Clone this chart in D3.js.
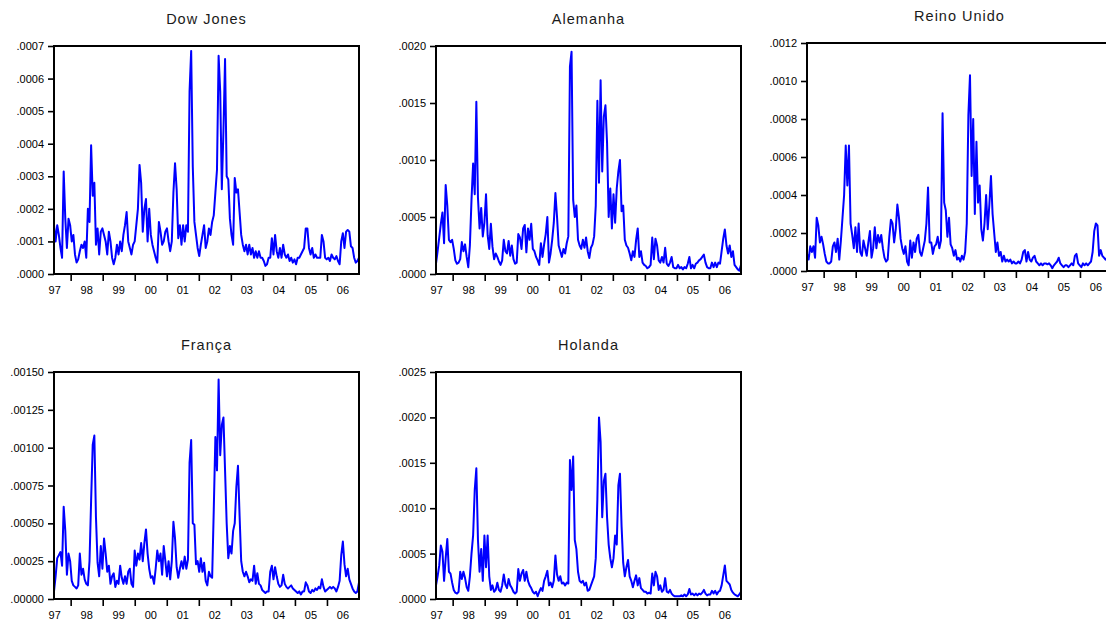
<!DOCTYPE html>
<html>
<head>
<meta charset="utf-8">
<script src="https://cdn.jsdelivr.net/npm/d3@7"></script>
<style>
  body { margin: 0; background: #fff; }
  svg { display: block; }
  text { font-family: "Liberation Sans", Arial, sans-serif; fill: #000; }
</style>
</head>
<body>
<svg id="chart" width="1106" height="620"></svg>
<script>
// Conditional variance estimates, sampled evenly from mid-1997 to end of 2006.
// Values are in units of 1e-4.
const seriesStart = 1997.48;
const seriesEnd = 2007.0;
const yearLabels = ["97", "98", "99", "00", "01", "02", "03", "04", "05", "06"];
const firstYear = 1997;

const dowJones = [
  1.5, 1.0, 1.5, 1.2, 0.8, 0.5, 3.15, 1.7, 0.8, 1.7,
  1.5, 1.0, 1.2, 0.6, 0.35, 0.45, 0.7, 0.9, 0.8, 1.0, 0.5, 2.0, 1.6, 3.95, 2.4, 2.8, 0.9, 1.4, 0.6, 1.3,
  1.4, 1.2, 1.0, 0.6, 1.3, 1.0, 0.5, 0.3, 0.5, 0.9, 0.6, 1.0, 0.7, 1.2, 1.5, 1.9, 1.0, 0.8, 0.6, 0.9,
  1.0, 1.5, 2.0, 3.35, 2.8, 1.3, 2.0, 2.3, 1.0, 2.0, 1.2, 0.9, 0.7, 0.5, 0.35, 1.6, 1.3, 0.9, 1.0, 1.3,
  1.4, 1.0, 0.7, 1.0, 2.5, 3.4, 2.6, 1.1, 1.5, 0.9, 1.5, 1.0, 1.5, 1.3, 5.6, 6.85, 3.3, 1.6, 1.2, 0.8,
  0.55, 0.9, 1.2, 1.5, 0.8, 1.0, 1.4, 1.2, 1.6, 1.8, 2.5, 3.2, 6.7, 5.6, 2.6, 4.4, 6.6, 3.0, 2.9, 1.7,
  1.2, 0.9, 2.95, 2.5, 2.6, 1.9, 1.2, 0.9, 0.7, 0.9, 0.6, 0.9, 0.6, 0.8, 0.5, 0.7, 0.5, 0.7, 0.5, 0.5,
  0.4, 0.25, 0.3, 0.5, 0.5, 1.1, 0.6, 1.2, 0.7, 0.5, 0.8, 0.5, 0.9, 0.6, 0.5, 0.6, 0.4, 0.5, 0.35, 0.45,
  0.3, 0.5, 0.5, 0.6, 0.7, 0.8, 1.4, 1.4, 0.8, 0.6, 0.8, 0.5, 0.6, 0.5, 0.5, 0.5, 1.2, 1.0, 0.5, 0.45,
  0.5, 0.4, 0.6, 0.5, 0.45, 0.55, 0.4, 0.3, 1.0, 1.25, 0.8, 1.3, 1.35, 1.3, 0.85, 0.8, 0.5, 0.35, 0.4, 0.5
];

const alemanha = [
  0.9, 2.0, 3.2, 4.4, 5.4, 2.7, 7.8, 6.0, 3.0, 2.8,
  3.0, 2.2, 1.2, 0.9, 1.0, 1.3, 2.8, 2.0, 2.6, 1.5, 0.6, 2.5, 6.5, 9.7, 7.0, 15.1, 6.7, 4.0, 5.8, 3.3,
  4.5, 7.0, 3.4, 2.2, 4.4, 2.4, 1.3, 1.8, 1.5, 1.1, 0.8, 1.2, 3.0, 2.0, 1.8, 2.9, 1.6, 2.5, 1.3, 0.9,
  1.0, 3.5, 3.2, 2.2, 4.0, 4.3, 1.9, 4.0, 3.0, 4.4, 2.2, 2.0, 1.5, 1.2, 0.8, 2.7, 1.5, 2.6, 3.5, 5.0,
  1.0, 1.8, 3.0, 4.5, 7.1, 5.0, 2.5, 2.0, 1.5, 2.2, 1.8, 2.7, 3.3, 18.2, 19.5, 6.5, 5.0, 6.0, 3.0, 2.5,
  2.2, 3.0, 2.3, 3.2, 2.0, 1.4, 2.3, 2.6, 3.3, 6.0, 15.2, 8.0, 17.0, 9.0, 13.8, 14.8, 11.5, 5.0, 7.5, 4.0,
  7.0, 4.5, 7.5, 9.0, 10.0, 5.5, 6.0, 3.0, 2.5, 2.3, 1.8, 1.2, 2.0, 1.5, 3.0, 4.0, 1.5, 2.0, 1.0, 0.8,
  0.7, 0.5, 0.6, 0.8, 3.2, 1.3, 3.1, 2.5, 1.2, 1.0, 1.5, 1.0, 2.3, 0.9, 0.7, 1.0, 1.5, 0.6, 0.5, 0.5,
  0.8, 0.5, 0.6, 0.4, 0.6, 0.5, 0.9, 1.5, 0.5, 0.8, 0.5, 0.9, 1.0, 1.2, 1.3, 1.5, 1.7, 1.0, 0.6, 0.5,
  0.5, 1.0, 0.6, 1.0, 0.6, 1.0, 0.9, 2.0, 3.1, 3.9, 2.5, 1.8, 2.5, 1.5, 2.0, 0.8, 0.6, 0.4, 0.3, 0.8
];

const reinoUnido = [
  0.9, 0.6, 1.3, 1.0, 1.3, 0.7, 2.8, 2.4, 1.5, 1.8,
  1.4, 0.9, 0.5, 0.4, 0.4, 0.5, 1.3, 1.5, 1.0, 1.7, 0.6, 1.6, 2.8, 4.0, 6.6, 4.5, 6.6, 2.5, 1.9, 1.2,
  2.3, 1.0, 2.5, 1.0, 0.8, 1.6, 1.2, 0.8, 1.5, 2.1, 0.7, 1.2, 2.3, 1.2, 1.9, 1.5, 1.9, 1.2, 0.7, 0.5,
  0.6, 1.8, 2.7, 2.5, 1.5, 2.2, 3.5, 2.8, 1.7, 1.2, 0.9, 1.3, 0.5, 0.3, 1.6, 0.7, 1.5, 1.0, 1.7, 1.9,
  1.0, 0.8, 1.2, 1.6, 2.5, 4.4, 1.5, 1.5, 0.9, 1.3, 1.4, 1.8, 1.2, 1.6, 8.3, 3.6, 3.2, 1.8, 2.8, 1.4,
  1.2, 0.8, 1.1, 0.6, 0.7, 0.5, 0.8, 0.6, 1.0, 2.5, 8.2, 10.3, 5.0, 8.0, 3.0, 6.8, 3.6, 4.5, 2.2, 1.6,
  2.5, 4.0, 2.2, 3.5, 5.0, 3.0, 2.0, 1.0, 1.5, 0.8, 1.0, 0.5, 0.8, 0.5, 0.6, 0.5, 0.6, 0.4, 0.5, 0.4,
  0.4, 0.5, 0.4, 0.6, 1.0, 1.1, 0.5, 1.0, 0.6, 0.5, 0.7, 0.8, 0.5, 0.4, 0.3, 0.4, 0.3, 0.4, 0.4, 0.35,
  0.4, 0.3, 0.15, 0.3, 0.4, 0.5, 0.7, 0.4, 0.3, 0.2, 0.3, 0.3, 0.2, 0.3, 0.4, 0.3, 0.8, 0.9, 0.4, 0.3,
  0.2, 0.4, 0.3, 0.4, 0.3, 0.4, 0.5, 1.0, 2.1, 2.5, 2.4, 0.8, 1.1, 0.8, 0.7, 0.6, 0.7, 0.4, 0.3, 0.4
];

const franca = [
  0.5, 1.5, 2.7, 2.9, 3.1, 2.2, 6.1, 4.5, 1.6, 3.0,
  2.5, 1.2, 0.9, 0.8, 0.7, 0.9, 3.0, 1.6, 2.0, 1.3, 1.0, 0.9, 2.5, 6.5, 10.2, 10.8, 5.4, 2.4, 1.5, 3.5,
  2.0, 4.0, 3.0, 1.8, 2.2, 1.0, 1.5, 1.7, 0.8, 1.2, 1.0, 2.2, 1.4, 1.0, 1.5, 1.0, 1.8, 2.0, 1.0, 0.8,
  3.2, 2.2, 3.0, 2.6, 3.7, 2.5, 3.7, 4.6, 3.0, 2.0, 1.4, 1.5, 1.0, 2.0, 3.2, 2.5, 3.0, 1.6, 3.5, 2.5,
  1.5, 2.5, 1.3, 2.5, 5.1, 4.0, 2.1, 1.4, 2.0, 2.5, 2.0, 2.8, 2.0, 2.6, 9.0, 10.5, 5.0, 4.9, 2.3, 2.5,
  1.8, 2.7, 1.8, 2.4, 1.2, 0.9, 1.8, 1.5, 1.4, 5.9, 10.7, 8.5, 14.5, 9.5, 11.5, 12.0, 8.5, 5.0, 2.7, 3.5,
  3.0, 4.5, 5.0, 7.4, 8.8, 5.5, 2.5, 1.8, 1.5, 1.8, 1.5, 1.1, 1.3, 1.2, 2.2, 1.0, 1.7, 1.0, 0.9, 0.6,
  0.5, 0.4, 0.5, 0.5, 1.8, 2.2, 1.3, 2.1, 1.5, 1.0, 0.8, 0.9, 1.6, 1.0, 0.8, 0.7, 0.8, 0.9, 0.7, 0.6,
  0.5, 0.4, 0.5, 0.3, 0.5, 0.5, 1.1, 0.9, 0.5, 0.4, 0.6, 0.5, 0.7, 0.6, 0.8, 0.7, 1.3, 0.8, 0.5, 0.6,
  0.7, 0.8, 0.7, 0.8, 0.7, 0.5, 0.8, 1.2, 2.9, 3.8, 2.3, 1.5, 2.0, 1.3, 1.0, 0.7, 0.5, 0.4, 0.5, 1.1
];

const holanda = [
  1.5, 2.5, 3.7, 5.9, 5.2, 2.0, 4.5, 6.6, 3.0, 2.8,
  1.8, 1.0, 0.7, 0.6, 0.8, 3.0, 2.2, 3.0, 2.3, 1.3, 0.9, 2.5, 5.0, 7.0, 12.0, 14.4, 6.5, 3.0, 5.5, 2.0,
  7.0, 3.5, 7.0, 2.5, 1.0, 1.5, 0.8, 1.0, 1.8, 1.0, 0.8, 1.5, 2.7, 1.6, 1.2, 2.2, 1.5, 1.2, 0.8, 0.6,
  0.8, 3.3, 2.0, 2.8, 3.2, 2.0, 3.0, 2.0, 1.5, 1.2, 0.8, 0.6, 0.8, 0.3, 0.8, 1.2, 0.9, 2.0, 2.5, 3.1,
  1.5, 1.8, 1.3, 2.0, 4.8, 2.7, 2.0, 2.5, 1.7, 1.8, 1.5, 1.8, 1.7, 15.3, 12.0, 15.7, 6.5, 5.5, 3.0, 2.0,
  1.8, 2.0, 1.5, 1.8, 0.9, 1.0, 1.5, 2.0, 2.5, 4.5, 11.0, 20.0, 17.3, 9.0, 13.0, 13.8, 9.0, 6.0, 4.5, 3.5,
  4.5, 7.0, 6.0, 12.5, 13.8, 8.0, 4.0, 2.5, 3.5, 4.3, 2.5, 2.0, 1.3, 2.0, 2.6, 1.5, 2.3, 1.2, 1.0, 0.8,
  0.8, 0.6, 0.7, 0.6, 2.8, 1.5, 3.0, 2.5, 1.0, 1.5, 0.8, 1.0, 2.3, 0.8, 0.7, 1.0, 0.6, 0.4, 0.3, 0.3,
  0.3, 0.3, 0.4, 0.3, 0.5, 0.3, 0.5, 1.1, 0.5, 0.6, 0.4, 0.6, 0.4, 0.6, 0.5, 0.7, 1.0, 0.6, 0.4, 0.5,
  0.5, 0.9, 0.6, 0.9, 0.5, 0.8, 0.9, 1.5, 2.6, 3.7, 2.0, 1.8, 1.6, 1.0, 0.7, 0.5, 0.4, 0.3, 0.5, 0.8
];

// Panel layout: plot box in pixels and the y-axis scale of each series.
const panels = [
  { title: "Dow Jones",   values: dowJones,   yMax: 0.0007,  yStep: 0.0001,  digits: 4, left: 54,  top: 46,  w: 305, h: 228 },
  { title: "Alemanha",    values: alemanha,   yMax: 0.0020,  yStep: 0.0005,  digits: 4, left: 436, top: 46,  w: 305, h: 228 },
  { title: "Reino Unido", values: reinoUnido, yMax: 0.0012,  yStep: 0.0002,  digits: 4, left: 807, top: 43,  w: 305, h: 228 },
  { title: "França",      values: franca,     yMax: 0.00150, yStep: 0.00025, digits: 5, left: 54,  top: 372, w: 305, h: 227 },
  { title: "Holanda",     values: holanda,    yMax: 0.0025,  yStep: 0.0005,  digits: 4, left: 436, top: 372, w: 305, h: 227 }
];

const svg = d3.select("#chart");
const unit = 1e-4;

panels.forEach((p, pi) => {
  const g = svg.append("g").attr("transform", `translate(${p.left},${p.top})`);

  const x = d3.scaleLinear().domain([seriesStart, seriesEnd]).range([0, p.w]);
  const y = d3.scaleLinear().domain([0, p.yMax]).range([p.h, 0]);

  const n = p.values.length;
  const tAt = i => seriesStart + i * (seriesEnd - seriesStart) / (n - 1);

  // clip for the series
  const clipId = "clip" + pi;
  g.append("clipPath").attr("id", clipId)
    .append("rect").attr("x", 0).attr("y", -2).attr("width", p.w).attr("height", p.h + 2);

  // series line
  const line = d3.line()
    .x((d, i) => x(tAt(i)))
    .y(d => y(d * unit));

  g.append("path")
    .datum(p.values)
    .attr("clip-path", `url(#${clipId})`)
    .attr("fill", "none")
    .attr("stroke", "#0000ff")
    .attr("stroke-width", 2)
    .attr("stroke-linejoin", "round")
    .attr("d", line);

  // y axis
  const fmt = d3.format("." + p.digits + "f");
  const yTicks = d3.range(0, p.yMax + p.yStep / 2, p.yStep);
  const yAxis = d3.axisLeft(y)
    .tickValues(yTicks)
    .tickSize(6)
    .tickPadding(4)
    .tickFormat(v => fmt(v).replace(/^0/, ""));
  const ya = g.append("g").call(yAxis);
  ya.select(".domain").remove();
  ya.selectAll(".tick line").attr("stroke", "#000").attr("stroke-width", 1.6);
  ya.selectAll(".tick text")
    .attr("font-size", 11)
    .style("font-family", "'Liberation Sans', Arial, sans-serif");

  // x axis: ticks at year boundaries, labels at mid-year
  const xAxis = d3.axisBottom(x)
    .tickValues(d3.range(firstYear + 1, firstYear + yearLabels.length))
    .tickSize(7)
    .tickFormat("");
  const xa = g.append("g").attr("transform", `translate(0,${p.h})`).call(xAxis);
  xa.select(".domain").remove();
  xa.selectAll(".tick line").attr("stroke", "#000").attr("stroke-width", 1.6);

  g.append("g").selectAll("text")
    .data(yearLabels)
    .join("text")
    .attr("x", (d, i) => x(firstYear + i + 0.5))
    .attr("y", p.h + 20)
    .attr("text-anchor", "middle")
    .attr("font-size", 11)
    .text(d => d);

  // frame
  g.append("rect")
    .attr("x", 0).attr("y", 0)
    .attr("width", p.w).attr("height", p.h)
    .attr("fill", "none")
    .attr("stroke", "#000")
    .attr("stroke-width", 2);

  // title
  g.append("text")
    .attr("x", p.w / 2)
    .attr("y", -22)
    .attr("text-anchor", "middle")
    .attr("font-size", 14.5)
    .attr("letter-spacing", 1)
    .style("fill", "#1a1a1a")
    .text(p.title);
});
</script>
</body>
</html>
